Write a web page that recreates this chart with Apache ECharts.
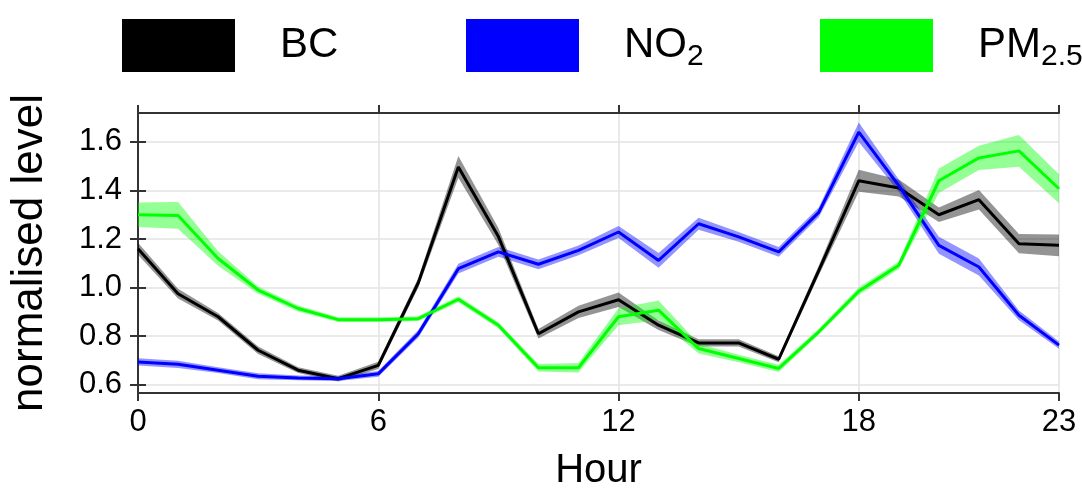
<!DOCTYPE html>
<html>
<head>
<meta charset="utf-8">
<script src="https://cdn.jsdelivr.net/npm/echarts@6/dist/echarts.min.js"></script>
<style>html,body{margin:0;padding:0;background:#fff}#c{width:1082px;height:500px}</style>
</head>
<body>
<div id="c"></div>
<script>
const hours = [0,1,2,3,4,5,6,7,8,9,10,11,12,13,14,15,16,17,18,19,20,21,22,23];
const bc    = [1.16,0.975,0.88,0.742,0.66,0.625,0.68,1.02,1.497,1.21,0.81,0.90,0.95,0.845,0.772,0.772,0.705,1.07,1.44,1.41,1.30,1.362,1.181,1.174];
const bcHw  = [0.025,0.02,0.015,0.015,0.012,0.012,0.015,0.02,0.045,0.035,0.02,0.025,0.03,0.02,0.015,0.015,0.012,0.02,0.045,0.035,0.03,0.04,0.04,0.045];
const no2   = [0.694,0.684,0.66,0.635,0.628,0.625,0.645,0.81,1.078,1.147,1.096,1.153,1.229,1.112,1.263,1.209,1.147,1.31,1.64,1.42,1.174,1.085,0.886,0.763];
const no2Hw = [0.015,0.015,0.012,0.012,0.01,0.01,0.012,0.015,0.02,0.02,0.02,0.02,0.025,0.03,0.025,0.02,0.02,0.02,0.04,0.025,0.035,0.035,0.02,0.015];
const pm    = [1.30,1.297,1.12,0.99,0.914,0.868,0.868,0.872,0.952,0.845,0.67,0.67,0.88,0.907,0.749,0.708,0.667,0.818,0.985,1.092,1.44,1.534,1.563,1.407];
const pmHw  = [0.05,0.055,0.03,0.015,0.012,0.01,0.01,0.01,0.012,0.012,0.015,0.02,0.035,0.04,0.02,0.015,0.015,0.012,0.015,0.015,0.05,0.05,0.065,0.06];
const yTicks = [0.6,0.8,1.0,1.2,1.4,1.6];
const xTicks = [0,6,12,18,23];

const FONT = "'Liberation Sans', Arial, sans-serif";
const chart = echarts.init(document.getElementById('c'), null, {renderer:'canvas'});

function band(name, vals, hw, fill) {
  return {
    type: 'custom', name: name + ' band', z: 1, silent: true, clip: true,
    data: hours.map((h, i) => [h, vals[i]]),
    renderItem: function (params, api) {
      if (params.dataIndex !== 0) return;
      const pts = [];
      for (let i = 0; i < hours.length; i++) pts.push(api.coord([hours[i], vals[i] + hw[i]]));
      for (let i = hours.length - 1; i >= 0; i--) pts.push(api.coord([hours[i], vals[i] - hw[i]]));
      return { type: 'polygon', shape: { points: pts }, style: { fill: fill, stroke: null } };
    }
  };
}
function line(name, vals, color) {
  return {
    type: 'line', name: name, z: 3, symbol: 'none', silent: true,
    data: hours.map((h, i) => [h, vals[i]]),
    lineStyle: { color: color, width: 3 }, itemStyle: { color: color }
  };
}
const rich = {
  g: { width: 40 },
  t: { fontSize: 42, fontFamily: FONT, color: '#000', lineHeight: 52 },
  s: { fontSize: 30, fontFamily: FONT, color: '#000', verticalAlign: 'bottom', lineHeight: 24 }
};
function legend(name, left, fmt) {
  return {
    data: [name], left: left, top: 14, icon: 'rect', itemWidth: 113, itemHeight: 53,
    selectedMode: false, formatter: () => fmt, textStyle: { rich: rich, fontFamily: FONT }
  };
}
const axisLineStyle = { color: '#333', width: 2 };
chart.setOption({
  animation: false,
  textStyle: { fontFamily: FONT },
  legend: [
    legend('BC', 117, '{g|}{t|BC}'),
    legend('NO2', 461, '{g|}{t|NO}{s|2}'),
    legend('PM2.5', 815, '{g|}{t|PM}{s|2.5}')
  ],
  grid: { left: 137, right: 23, top: 113, bottom: 107, containLabel: false },
  xAxis: [{
    type: 'value', min: 0, max: 23, position: 'bottom',
    name: 'Hour', nameLocation: 'middle', nameGap: 58,
    nameTextStyle: { fontSize: 40, color: '#000', fontFamily: FONT },
    axisLine: { show: true, lineStyle: axisLineStyle },
    axisTick: { show: true, customValues: xTicks, length: 8, lineStyle: axisLineStyle },
    axisLabel: { customValues: xTicks, fontSize: 31, color: '#000', margin: 14, fontFamily: FONT },
    splitLine: { show: true, lineStyle: { color: '#e3e3e3', width: 1.5 } }
  }, {
    type: 'value', min: 0, max: 23, position: 'top',
    axisLine: { show: true, lineStyle: axisLineStyle },
    axisTick: { show: true, customValues: xTicks, length: 8, lineStyle: axisLineStyle },
    axisLabel: { show: false }, splitLine: { show: false }
  }],
  yAxis: [{
    type: 'value', min: 0.566, max: 1.719, position: 'left',
    name: 'normalised level', nameLocation: 'middle', nameGap: 86,
    nameTextStyle: { fontSize: 44, color: '#000', fontFamily: FONT },
    axisLine: { show: true, lineStyle: axisLineStyle },
    axisTick: { show: true, customValues: yTicks, length: 8, lineStyle: axisLineStyle },
    axisLabel: { customValues: yTicks, fontSize: 31, color: '#000', margin: 16, fontFamily: FONT,
                 formatter: v => v.toFixed(1) },
    splitLine: { show: true, lineStyle: { color: '#e3e3e3', width: 1.5 } }
  }, {
    type: 'value', min: 0.566, max: 1.719, position: 'right',
    axisLine: { show: true, lineStyle: axisLineStyle },
    axisTick: { show: true, customValues: yTicks, length: 8, lineStyle: axisLineStyle },
    axisLabel: { show: false }, splitLine: { show: false }
  }],
  series: [
    band('BC', bc, bcHw, 'rgba(0,0,0,0.42)'),
    band('NO2', no2, no2Hw, 'rgba(0,0,255,0.42)'),
    band('PM2.5', pm, pmHw, 'rgba(0,255,0,0.42)'),
    line('BC', bc, '#000000'),
    line('NO2', no2, '#0000ff'),
    line('PM2.5', pm, '#00ff00')
  ]
});
</script>
</body>
</html>
